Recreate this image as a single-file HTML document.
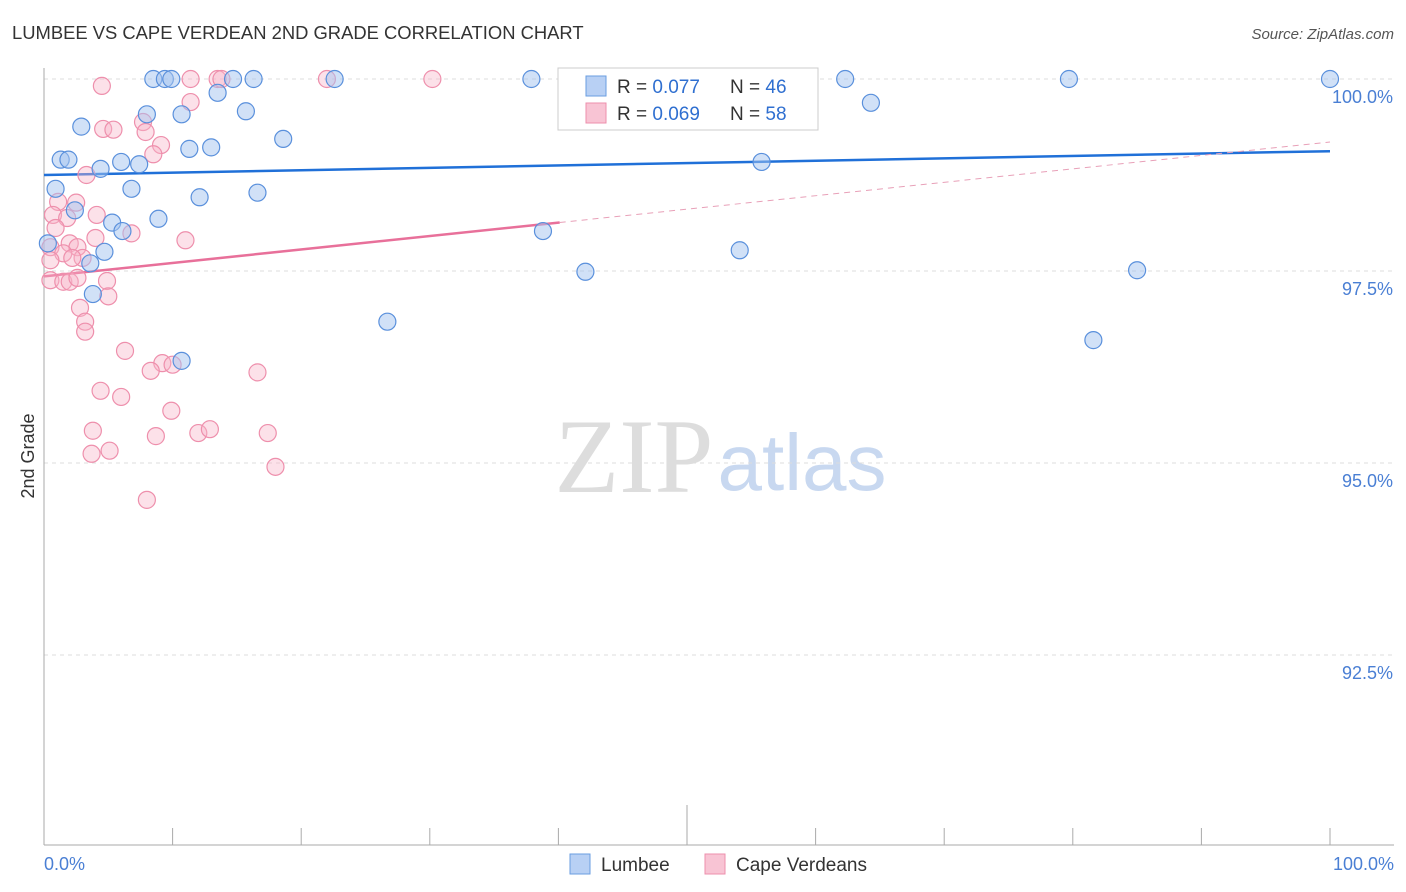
<!DOCTYPE html>
<html><head><meta charset="utf-8"><style>
body{margin:0;background:#fff;font-family:"Liberation Sans",sans-serif;}
svg{display:block}
</style></head><body>
<svg id="chart" width="1406" height="892">
<text x="12" y="39" font-size="18.4" fill="#333">LUMBEE VS CAPE VERDEAN 2ND GRADE CORRELATION CHART</text>
<text x="1394" y="39" font-size="15" fill="#555" font-style="italic" text-anchor="end">Source: ZipAtlas.com</text>
<text transform="translate(34,456) rotate(-90)" font-size="18" fill="#333" text-anchor="middle">2nd Grade</text>
<g><text x="634" y="492" font-size="106" font-family="Liberation Serif" fill="#ddd" text-anchor="middle">ZIP</text><text x="802" y="490" font-size="80" fill="#c8d8f0" text-anchor="middle">atlas</text></g>
<g id="grid"></g><g id="axes"></g><g id="trend"></g><g id="pts"></g>
<g>
<rect x="558" y="68" width="260" height="62" fill="#fff" stroke="#ccc"/>
<rect x="586" y="76" width="20" height="20" fill="#b8d0f4" stroke="#6a9ee0"/>
<text x="617" y="93" font-size="19" fill="#333">R = <tspan fill="#2f6fd0">0.077</tspan></text>
<text x="730" y="93" font-size="19" fill="#333">N = <tspan fill="#2f6fd0">46</tspan></text>
<rect x="586" y="103" width="20" height="20" fill="#f8c4d4" stroke="#ee8fac"/>
<text x="617" y="120" font-size="19" fill="#333">R = <tspan fill="#2f6fd0">0.069</tspan></text>
<text x="730" y="120" font-size="19" fill="#333">N = <tspan fill="#2f6fd0">58</tspan></text>
</g>
<g><rect x="570" y="854" width="20" height="20" fill="#b8d0f4" stroke="#6a9ee0"/><text x="601" y="871" font-size="19" fill="#333">Lumbee</text></g>
<g><rect x="705" y="854" width="20" height="20" fill="#f8c4d4" stroke="#ee8fac"/><text x="736" y="871" font-size="19" fill="#333">Cape Verdeans</text></g>
</svg>
<script>
const blueX=[8.5,9.4,9.9,14.7,16.3,22.6,37.9,62.3,79.7,100,13.5,64.3,8.0,10.7,15.7,2.9,18.6,11.3,13.0,1.3,1.9,6.0,7.4,4.4,55.8,0.9,6.8,12.1,16.6,2.4,8.9,5.3,6.1,38.8,0.3,4.7,54.1,3.6,42.1,85.0,3.8,26.7,81.6,10.7];
const blueY=[100,100,100,100,100,100,100,100,100,100,99.82,99.69,99.54,99.54,99.58,99.38,99.22,99.09,99.11,98.95,98.95,98.92,98.89,98.83,98.92,98.57,98.57,98.46,98.52,98.29,98.18,98.13,98.02,98.02,97.86,97.75,97.77,97.60,97.49,97.51,97.20,96.84,96.60,96.33];
const pinkX=[4.5,11.4,13.5,13.8,22.0,30.2,11.4,4.6,5.4,7.7,7.9,9.1,8.5,3.3,1.1,2.5,0.7,1.8,4.1,6.8,4.0,11.0,0.9,0.5,2.0,2.6,1.5,3.0,2.2,0.5,0.5,1.5,2.0,2.6,4.9,5.0,2.8,3.2,3.2,6.3,9.2,8.3,10.0,16.6,4.4,6.0,9.9,3.8,8.7,12.0,12.9,17.4,3.7,5.1,18.0,8.0];
const pinkY=[99.91,100,100,100,100,100,99.70,99.35,99.34,99.44,99.31,99.14,99.02,98.75,98.40,98.39,98.23,98.19,98.23,97.99,97.93,97.90,98.06,97.81,97.86,97.81,97.73,97.67,97.67,97.64,97.38,97.36,97.36,97.41,97.37,97.17,97.02,96.84,96.71,96.46,96.30,96.20,96.28,96.18,95.94,95.86,95.68,95.42,95.35,95.39,95.44,95.39,95.12,95.16,94.95,94.52];
const yTicks=[100,97.5,95,92.5];
const yTickLabels=["100.0%","97.5%","95.0%","92.5%"];
const blueTrend=[98.75,99.06];
const pinkTrend=[97.43,99.18];
const pinkSolidEnd=40.1;
const sx=v=>44+v*12.86, sy=v=>79+(100-v)*76.8;
const NS="http://www.w3.org/2000/svg";
function mk(tag,attrs,parent){const e=document.createElementNS(NS,tag);for(const k in attrs)e.setAttribute(k,attrs[k]);document.getElementById(parent).appendChild(e);return e;}
yTicks.forEach((t,i)=>{
 const l=mk('line',{x1:44,x2:1394,y1:sy(t),y2:sy(t),stroke:'#ddd','stroke-dasharray':'4,4'},'grid');
 
 
 const tx=mk('text',{x:1393,y:sy(t)+24,'font-size':18,fill:'#4a7fd4','text-anchor':'end'},'grid');
 tx.textContent=yTickLabels[i];
 
 
});
let a=mk('line',{x1:44,x2:44,y1:68,y2:845,stroke:'#aaa'},'axes');


a=mk('line',{x1:44,x2:1394,y1:845,y2:845,stroke:'#aaa'},'axes');


for(let i=0;i<=10;i++){const x=sx(i*10);
 const t=mk('line',{x1:x,x2:x,y1:845,y2:i==5?805:828,stroke:'#aaa'},'axes');
 
 }
[[0,"0.0%","start",44],[100,"100.0%","end",1394]].forEach(d=>{
 const t=mk('text',{x:d[3],y:870,'font-size':18,fill:'#4a7fd4','text-anchor':d[2]},'axes');t.textContent=d[1];
 
 });
const ps=(v)=>pinkTrend[0]+(pinkTrend[1]-pinkTrend[0])*v/100;
let tl=mk('line',{x1:sx(0),y1:sy(blueTrend[0]),x2:sx(100),y2:sy(blueTrend[1]),stroke:'#2070d8','stroke-width':2.5},'trend');


tl=mk('line',{x1:sx(0),y1:sy(pinkTrend[0]),x2:sx(pinkSolidEnd),y2:sy(ps(pinkSolidEnd)),stroke:'#e8709a','stroke-width':2.5},'trend');


tl=mk('line',{x1:sx(pinkSolidEnd),y1:sy(ps(pinkSolidEnd)),x2:sx(100),y2:sy(pinkTrend[1]),stroke:'#e8a0b8','stroke-width':1,'stroke-dasharray':'6,5'},'trend');


pinkX.forEach((x,i)=>{const c=mk('circle',{cx:sx(x),cy:sy(pinkY[i]),r:8.5,fill:'rgba(248,180,200,0.4)',stroke:'#ee8fac','stroke-width':1.2},'pts');
 
 });
blueX.forEach((x,i)=>{const c=mk('circle',{cx:sx(x),cy:sy(blueY[i]),r:8.5,fill:'rgba(164,196,240,0.5)',stroke:'#5a90dc','stroke-width':1.2},'pts');
 
 });
</script>
</body></html>
